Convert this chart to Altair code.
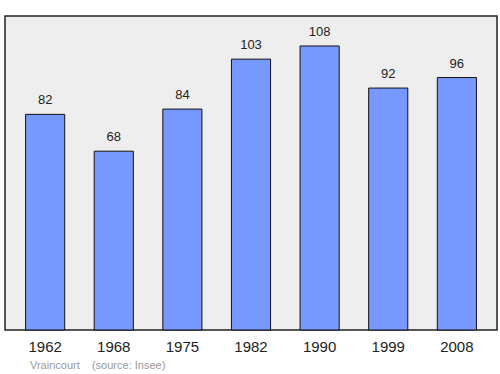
import altair as alt
import pandas as pd

years = ["1962", "1968", "1975", "1982", "1990", "1999", "2008"]
population = [82, 68, 84, 103, 108, 92, 96]

df = pd.DataFrame({"year": years, "pop": population})

font = "Liberation Sans"

x = alt.X("year:N", sort=years, title=None,
          scale=alt.Scale(paddingInner=0.43, paddingOuter=0.3),
          axis=alt.Axis(labelAngle=0, labelFontSize=15, labelFont=font, labelColor="#222",
                        ticks=False, domain=False, labelPadding=9))
y = alt.Y("pop:Q", title=None, scale=alt.Scale(domain=[0, 119.4], nice=False, zero=True),
          axis=None)

bars = alt.Chart(df).mark_bar(color="#7799ff", stroke="#111", strokeWidth=1).encode(x=x, y=y)
labels = alt.Chart(df).mark_text(font=font, fontSize=13, color="#222", dy=-10,
                                 baseline="alphabetic").encode(x=x, y=y, text="pop:Q")

chart = alt.layer(bars, labels).properties(
    width=492, height=314,
    title=alt.TitleParams("Vraincourt\u00a0\u00a0\u00a0\u00a0(source: Insee)", orient="bottom",
                          anchor="start", fontSize=11, color="#999", font=font,
                          fontWeight="normal", dx=25, offset=6),
    autosize=alt.AutoSizeParams(type="none"),
    padding={"left": 5, "top": 16, "right": 3, "bottom": 44},
).configure(
    background="white",
    view=alt.ViewConfig(fill="#eeeeee", stroke="#222", strokeWidth=1.5),
)

chart.save("out.html", embed_options={"renderer": "svg", "actions": False})
